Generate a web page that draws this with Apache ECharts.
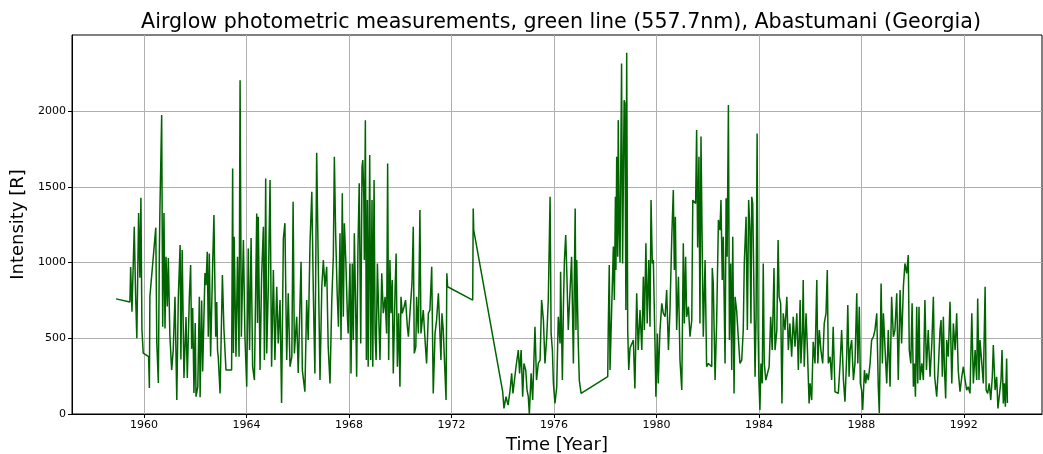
<!DOCTYPE html>
<html>
<head>
<meta charset="utf-8">
<title>Airglow photometric measurements, Abastumani</title>
<script src="https://cdn.jsdelivr.net/npm/echarts@6/dist/echarts.min.js"></script>
<style>
  html, body { margin: 0; padding: 0; background: #ffffff; }
  #chart { width: 1043px; height: 454px; }
</style>
</head>
<body>
<div id="chart"></div>
<script>
// Green line (557.7 nm) airglow intensity in Rayleigh, [decimal year, R]
const obs1958_1963 = [
  [1958.91,760],[1959.45,740],[1959.48,970],[1959.53,675],[1959.62,1236],[1959.67,800],[1959.72,500],
  [1959.79,1327],[1959.84,900],[1959.88,1428],[1959.92,554],[1959.97,402],[1960.18,378],[1960.21,172],
  [1960.23,774],[1960.46,1230],[1960.50,469],[1960.56,205],[1960.60,1071],[1960.62,1335],[1960.69,1974],
  [1960.73,576],[1960.78,1327],[1960.82,565],[1960.86,1038],[1960.91,710],[1960.95,1030],[1961.01,520],
  [1961.08,290],[1961.14,420],[1961.21,774],[1961.28,92],[1961.34,774],[1961.41,1115],[1961.44,360],
  [1961.49,1082],[1961.56,238],[1961.64,640],[1961.69,238],[1961.77,770],[1961.82,983],[1961.86,430],
  [1961.90,700],[1961.95,139],[1962.00,600],[1962.03,114],[1962.10,180],[1962.16,774],[1962.19,110],
  [1962.25,750],[1962.29,280],[1962.38,930],[1962.42,850],[1962.47,1071],[1962.51,510],[1962.55,1060],
  [1962.60,380],[1962.68,990],[1962.73,1313],[1962.76,929],[1962.80,510],[1962.84,740],[1962.87,422],
  [1962.90,370],[1962.97,136]
];
const obs1963_1967 = [
  [1963.06,917],[1963.12,560],[1963.20,290],[1963.28,290],[1963.42,290],[1963.46,1621],[1963.49,402],
  [1963.52,1170],[1963.59,378],[1963.65,1038],[1963.71,378],[1963.75,2204],[1963.80,510],[1963.88,1148],
  [1963.94,510],[1964.01,180],[1964.07,1093],[1964.12,422],[1964.18,1162],[1964.24,312],[1964.31,224],
  [1964.40,1324],[1964.43,600],[1964.46,1302],[1964.53,290],[1964.59,906],[1964.66,1236],[1964.70,356],
  [1964.75,1555],[1964.79,400],[1964.85,818],[1964.92,1544],[1964.98,312],[1965.05,950],[1965.11,356],
  [1965.18,840],[1965.24,466],[1965.31,752],[1965.37,72],[1965.44,1160],[1965.50,1260],[1965.57,356],
  [1965.63,797],[1965.70,312],[1965.77,378],[1965.82,1401],[1965.87,400],[1965.96,642],[1966.02,270],
  [1966.13,1005],[1966.18,290],[1966.28,147],[1966.35,752],[1966.41,488],[1966.48,1127],[1966.55,1467],
  [1966.61,797],[1966.67,268],[1966.74,1725],[1966.80,1016],[1966.87,224],[1966.94,840]
];
const obs1967_1972 = [
  [1967.00,1016],[1967.06,840],[1967.13,972],[1967.19,444],[1967.26,202],[1967.33,752],[1967.39,1038],
  [1967.43,1698],[1967.48,1193],[1967.54,797],[1967.59,576],[1967.65,1193],[1967.69,488],[1967.74,1457],
  [1967.78,642],[1967.82,1259],[1967.88,1000],[1967.94,642],[1967.97,532],[1968.04,994],[1968.08,268],
  [1968.13,994],[1968.17,488],[1968.21,1193],[1968.26,708],[1968.30,246],[1968.35,1082],[1968.40,1523],
  [1968.46,466],[1968.51,1632],[1968.54,1676],[1968.58,1434],[1968.60,1016],[1968.64,1940],[1968.68,356],
  [1968.72,1412],[1968.75,312],[1968.81,1709],[1968.85,356],[1968.90,1412],[1968.93,312],[1968.98,1544],
  [1969.02,532],[1969.06,356],[1969.11,994],[1969.16,665],[1969.21,356],[1969.28,929],[1969.34,665],
  [1969.41,774],[1969.47,532],[1969.51,1654],[1969.55,356],[1969.60,1016],[1969.64,665],[1969.69,884],
  [1969.73,268],[1969.80,818],[1969.84,1060],[1969.89,312],[1969.94,665],[1969.99,180],[1970.03,774],
  [1970.08,665],[1970.15,708],[1970.21,752],[1970.28,576],[1970.32,510],[1970.38,665],[1970.46,862],
  [1970.51,1236],[1970.55,400],[1970.61,444],[1970.64,774],[1970.71,532],[1970.77,1346],[1970.81,532],
  [1970.90,686],[1970.97,488],[1971.03,334],[1971.10,665],[1971.16,686],[1971.23,972],[1971.29,136],
  [1971.36,532],[1971.42,620],[1971.49,797],[1971.55,807],[1971.59,356],[1971.63,665],[1971.68,554],
  [1971.79,92],[1971.82,929],[1971.85,840]
];
const obs1972_1977 = [
  [1972.83,752],[1972.85,1357],[1972.87,1214],[1974.00,147],[1974.05,37],[1974.13,114],[1974.21,59],
  [1974.29,158],[1974.35,269],[1974.40,136],[1974.52,312],[1974.61,422],[1974.66,268],[1974.72,422],
  [1974.78,114],[1974.83,334],[1974.90,290],[1974.95,158],[1975.00,114],[1975.04,0],[1975.11,268],
  [1975.17,92],[1975.26,576],[1975.32,224],[1975.39,334],[1975.46,356],[1975.52,752],[1975.59,620],
  [1975.65,334],[1975.72,510],[1975.78,752],[1975.85,1434],[1975.89,532],[1975.94,422],[1975.98,202],
  [1976.04,70],[1976.11,180],[1976.17,642],[1976.24,466],[1976.26,939],[1976.33,224],[1976.37,708],
  [1976.41,1016],[1976.46,1181],[1976.50,950],[1976.56,554],[1976.63,818],[1976.69,1038],[1976.76,334],
  [1976.80,950],[1976.83,1357],[1976.86,554],[1976.89,1016],[1976.95,466],[1976.99,224],[1977.06,136]
];
const obs1978_1983 = [
  [1978.10,246],[1978.12,554],[1978.16,983],[1978.19,290],[1978.26,730],[1978.32,1105],[1978.36,752],
  [1978.40,1434],[1978.42,950],[1978.45,1698],[1978.49,1038],[1978.51,1940],[1978.55,1214],[1978.58,1000],
  [1978.64,2314],[1978.68,994],[1978.74,2072],[1978.77,2052],[1978.81,686],[1978.84,2384],[1978.88,554],
  [1978.92,290],[1978.97,435],[1979.04,422],[1979.10,488],[1979.16,169],[1979.23,797],[1979.29,422],
  [1979.36,686],[1979.43,422],[1979.49,906],[1979.53,554],[1979.59,1127],[1979.64,598],[1979.70,1016],
  [1979.75,576],[1979.79,1412],[1979.84,994],[1979.88,1016],[1979.95,422],[1979.98,114],[1980.04,532],
  [1980.07,202],[1980.14,554],[1980.21,730],[1980.27,665],[1980.34,642],[1980.40,818],[1980.47,422],
  [1980.53,686],[1980.60,1170],[1980.66,1478],[1980.70,950],[1980.74,1302],[1980.79,554],[1980.86,906],
  [1980.92,356],[1980.99,158],[1981.05,1127],[1981.09,598],[1981.14,1038],[1981.18,642],[1981.25,708],
  [1981.31,510],[1981.38,620],[1981.42,1412],[1981.53,1390],[1981.57,1874],[1981.61,1100],[1981.66,1698],
  [1981.70,598],[1981.74,1832],[1981.78,1214],[1981.83,510],[1981.90,1016],[1981.96,312],[1982.03,334],
  [1982.16,312],[1982.18,963],[1982.22,862],[1982.29,224],[1982.35,598],[1982.42,1281],[1982.48,1214],
  [1982.52,1412],[1982.57,884],[1982.61,1170],[1982.68,334],[1982.72,1425],[1982.76,1038],[1982.81,2040],
  [1982.85,488],[1982.90,994],[1982.94,290],[1982.98,1170]
];
const obs1983_1988 = [
  [1983.03,136],[1983.07,774],[1983.13,686],[1983.20,686],[1983.26,334],[1983.33,356],[1983.39,554],
  [1983.43,994],[1983.50,1302],[1983.55,554],[1983.60,1412],[1983.65,1214],[1983.69,598],[1983.72,1434],
  [1983.76,1390],[1983.81,774],[1983.85,246],[1983.89,642],[1983.93,1852],[1983.97,554],[1984.00,224],
  [1984.04,26],[1984.08,334],[1984.13,202],[1984.17,994],[1984.21,334],[1984.27,224],[1984.33,230],
  [1984.40,312],[1984.46,642],[1984.52,422],[1984.59,963],[1984.63,422],[1984.70,554],[1984.75,1148],
  [1984.79,774],[1984.85,730],[1984.90,70],[1984.95,665],[1985.02,554],[1985.09,774],[1985.15,422],
  [1985.21,598],[1985.28,378],[1985.34,642],[1985.41,444],[1985.48,665],[1985.54,290],[1985.61,752],
  [1985.64,334],[1985.70,554],[1985.73,884],[1985.77,312],[1985.84,665],[1985.89,444],[1985.96,70],
  [1986.00,202],[1986.06,92],[1986.12,477],[1986.19,334],[1986.26,884],[1986.30,334],[1986.36,554],
  [1986.42,422],[1986.49,334],[1986.55,598],[1986.62,665],[1986.67,950],[1986.71,334],[1986.78,378],
  [1986.84,224],[1986.90,576],[1986.97,147],[1987.04,158],[1987.10,136],[1987.17,334],[1987.23,554],
  [1987.30,224],[1987.36,81],[1987.43,400],[1987.47,719],[1987.52,246],[1987.56,422],[1987.62,488],
  [1987.69,224],[1987.75,334],[1987.82,797],[1987.86,334],[1987.92,708],[1987.96,202]
];
const obs1988_1993 = [
  [1988.01,158],[1988.05,26],[1988.12,290],[1988.17,202],[1988.21,268],[1988.27,224],[1988.34,334],
  [1988.40,488],[1988.47,510],[1988.53,554],[1988.60,665],[1988.66,180],[1988.70,7],[1988.77,862],
  [1988.82,334],[1988.86,665],[1988.92,444],[1988.99,202],[1989.05,554],[1989.12,180],[1989.18,774],
  [1989.25,510],[1989.31,554],[1989.38,797],[1989.44,224],[1989.51,818],[1989.57,466],[1989.64,840],
  [1989.70,994],[1989.77,928],[1989.83,1049],[1989.87,422],[1989.93,334],[1989.98,731],[1990.03,180],
  [1990.07,334],[1990.11,114],[1990.16,708],[1990.20,202],[1990.25,708],[1990.29,224],[1990.36,334],
  [1990.42,224],[1990.48,752],[1990.54,290],[1990.61,554],[1990.68,246],[1990.75,466],[1990.81,774],
  [1990.86,246],[1990.94,114],[1991.00,290],[1991.07,554],[1991.11,620],[1991.16,246],[1991.20,642],
  [1991.24,312],[1991.29,103],[1991.33,488],[1991.39,378],[1991.46,741],[1991.53,202],[1991.59,598],
  [1991.66,422],[1991.72,665],[1991.78,290],[1991.85,147],[1991.92,246],[1991.98,312],[1992.05,224],
  [1992.11,158],[1992.17,180],[1992.24,136],[1992.31,665],[1992.37,202],[1992.44,422],[1992.50,224],
  [1992.54,763],[1992.59,224],[1992.63,488],[1992.70,334],[1992.76,202],[1992.83,840],[1992.87,158],
  [1992.93,136],[1992.99,202],[1993.05,92],[1993.11,246],[1993.15,455],[1993.22,158],[1993.28,246],
  [1993.33,37],[1993.38,114],[1993.45,224],[1993.49,422],[1993.54,70],[1993.58,202],[1993.62,48],
  [1993.67,367],[1993.70,72]
];

const yearTicks = [1960, 1964, 1968, 1972, 1976, 1980, 1984, 1988, 1992];
const intensityTicks = [0, 500, 1000, 1500, 2000];

const intensity = [].concat(obs1958_1963, obs1963_1967, obs1967_1972,
  obs1972_1977, obs1978_1983, obs1983_1988, obs1988_1993);

const FONT = "'DejaVu Sans', 'Liberation Sans', sans-serif";
const chart = echarts.init(document.getElementById('chart'), null, { renderer: 'canvas' });

chart.setOption({
  animation: false,
  backgroundColor: '#ffffff',
  title: {
    text: 'Airglow photometric measurements, green line (557.7nm), Abastumani (Georgia)',
    left: 556,
    top: 7,
    textAlign: 'center',
    textStyle: { fontFamily: FONT, fontSize: 20.6, fontWeight: 'normal', color: '#000000' }
  },
  grid: {
    left: 72, right: 1, top: 35, bottom: 40,
    containLabel: false,
    outerBoundsMode: 'none',
    show: true, borderColor: '#000000', borderWidth: 1, backgroundColor: '#ffffff'
  },
  xAxis: {
    type: 'value',
    min: 1957.19,
    max: 1995.05,
    name: 'Time [Year]',
    nameLocation: 'middle',
    nameGap: 21,
    nameTextStyle: { fontFamily: FONT, fontSize: 18, color: '#000000' },
    axisLine: { show: true, lineStyle: { color: '#000000', width: 1 } },
    axisTick: { show: true, inside: false, length: 4, customValues: yearTicks,
      lineStyle: { color: '#000000', width: 1 } },
    axisLabel: { customValues: yearTicks, margin: 6, fontFamily: FONT, fontSize: 11, color: '#000000',
      formatter: v => String(Math.round(v)) },
    splitLine: { show: true, lineStyle: { color: '#b0b0b0', width: 1 } }
  },
  yAxis: {
    type: 'value',
    min: 0,
    max: 2502,
    name: 'Intensity [R]',
    nameLocation: 'middle',
    nameGap: 36,
    nameTextStyle: { fontFamily: FONT, fontSize: 18, color: '#000000' },
    axisLine: { show: true, lineStyle: { color: '#000000', width: 1 } },
    axisTick: { show: true, inside: false, length: 4, customValues: intensityTicks,
      lineStyle: { color: '#000000', width: 1 } },
    axisLabel: { customValues: intensityTicks, margin: 6, fontFamily: FONT, fontSize: 11, color: '#000000',
      formatter: v => String(Math.round(v)) },
    splitLine: { show: true, lineStyle: { color: '#b0b0b0', width: 1 } }
  },
  series: [{
    type: 'line',
    data: intensity,
    showSymbol: false,
    symbol: 'none',
    sampling: null,
    lineStyle: { color: '#006400', width: 1.5 },
    z: 3
  }]
});
</script>
</body>
</html>
